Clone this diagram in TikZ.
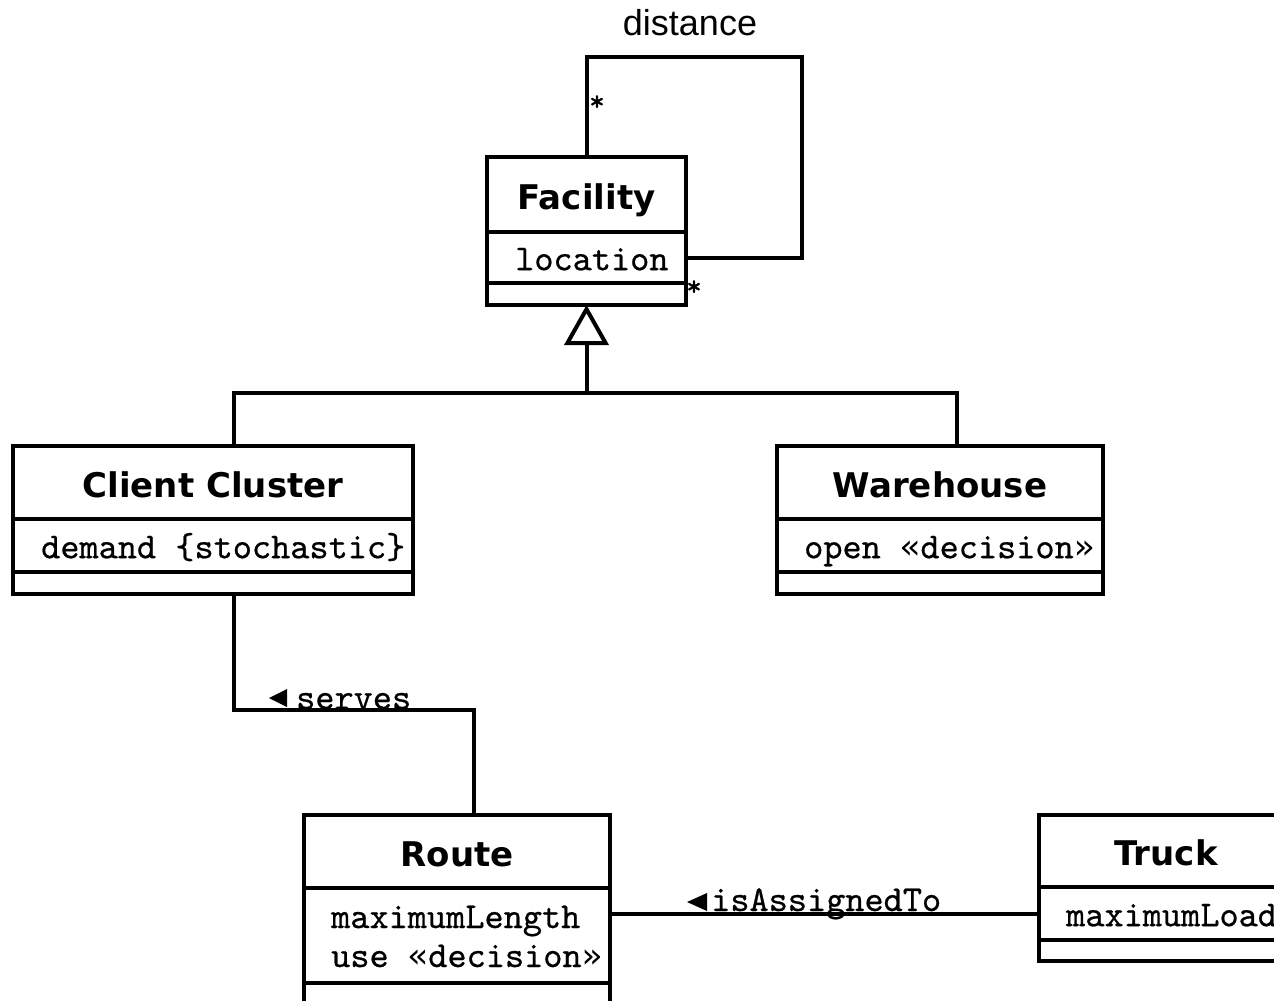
\documentclass[tikz,border=0pt]{standalone}
\usepackage{fontspec}
\newfontfamily\titlefont{DejaVu Sans}
\newfontfamily\labelfont{Liberation Sans}
\newfontfamily\gfont{DejaVu Sans Mono}
\newfontfamily\attrfont{lmmono10-regular.otf}[FakeBold=0.6]
\newcommand\lguil{{\gfont\fontsize{34}{40}\selectfont«}}
\newcommand\rguil{{\gfont\fontsize{34}{40}\selectfont»}}
\usetikzlibrary{arrows.meta}
\begin{document}
\begin{tikzpicture}[x=1pt,y=-1pt,
  box/.style={draw, line width=4pt, inner sep=0pt, outer sep=0pt, anchor=north west},
  titlebox/.style={box, font=\titlefont\bfseries\fontsize{34}{40}\selectfont, align=center, text height=30pt, text depth=1pt},
  attrtext/.style={inner sep=0pt, anchor=base west, font=\attrfont\fontsize{36.5}{39}\selectfont},
  lbl/.style={inner sep=0pt, font=\attrfont\fontsize{36.5}{39}\selectfont},
  conn/.style={line width=4pt},
  gen/.style={conn, -{Triangle[open, length=40pt, width=44pt, line width=4pt]}},
  dirtri/.style={fill=black}
]
\fill[white] (0,0) rectangle (1274,1001);
\useasboundingbox (0,0) rectangle (1274,1001);
\begin{scope}
\clip (0,0) rectangle (1274,1001);

% Facility
\node[titlebox, minimum width=199pt, minimum height=75pt] (fact) at (487,157) {Facility};
\node[box, minimum width=199pt, minimum height=51pt] (faca) at (fact.south west) {};
\node[box, minimum width=199pt, minimum height=22pt] (faco) at (faca.south west) {};
\node[attrtext] (facl) at ([xshift=28pt,yshift=-12.7pt]faca.west) {location};

% Client Cluster
\node[titlebox, minimum width=400pt, minimum height=73pt] (cct) at (13,446) {Client Cluster};
\node[box, minimum width=400pt, minimum height=53pt] (cca) at (cct.south west) {};
\node[box, minimum width=400pt, minimum height=22pt] (cco) at (cca.south west) {};
\node[attrtext] (ccl) at ([xshift=28pt,yshift=-12.7pt]cca.west) {demand \{stochastic\}};

% Warehouse
\node[titlebox, minimum width=326pt, minimum height=73pt] (wht) at (777,446) {Warehouse};
\node[box, minimum width=326pt, minimum height=53pt] (wha) at (wht.south west) {};
\node[box, minimum width=326pt, minimum height=22pt] (who) at (wha.south west) {};
\node[attrtext] (whl) at ([xshift=27pt,yshift=-12.7pt]wha.west) {open \lguil decision\rguil};

% Route
\node[titlebox, minimum width=306pt, minimum height=73pt] (rtt) at (304,815) {Route};
\node[box, minimum width=306pt, minimum height=95pt] (rta) at (rtt.south west) {};
\node[box, minimum width=306pt, minimum height=22pt] (rto) at (rta.south west) {};
\node[attrtext] (rtl1) at ([xshift=27pt,yshift=7.5pt]rta.west) {maximumLength};
\node[attrtext] (rtl2) at ([xshift=27pt,yshift=-31.5pt]rta.west) {use \lguil decision\rguil};

% Truck
\node[titlebox, minimum width=254pt, minimum height=72pt] (trt) at (1039,815) {Truck};
\node[box, minimum width=254pt, minimum height=53pt] (tra) at (trt.south west) {};
\node[box, minimum width=254pt, minimum height=21pt] (tro) at (tra.south west) {};
\node[attrtext] (trl) at ([xshift=27pt,yshift=-12.7pt]tra.west) {maximumLoad};

% generalization
\coordinate (g1) at (234,393);
\coordinate (g2) at (957,393);
\coordinate (gj) at (586.5,393);
\draw[conn] (cct.north -| g1) -- (g1) -- (g2) -- (wht.north -| g2);
\draw[gen] (gj) -- (faco.south);

% self association distance
\coordinate (d1) at (586.5,57);
\coordinate (d2) at (802,57);
\draw[conn] (fact.north) -- (d1) -- (d2) |- (faca.east);
\node[inner sep=0pt, anchor=base, font=\labelfont\fontsize{36}{40}\selectfont] (dist) at (690,35) {distance};
\node[lbl, font=\attrfont\fontsize{30}{36}\selectfont] (st1) at (597,103) {*};
\node[lbl, font=\attrfont\fontsize{30}{36}\selectfont] (st2) at (694,288) {*};

% serves
\coordinate (s1) at (234,710);
\coordinate (s2) at (474,710);
\draw[conn] (cco.south -| s1) -- (s1) -- (s2) -- (rtt.north -| s2);
\fill[dirtri] (287,689) -- (287,707) -- (269,698) -- cycle;
\node[lbl, anchor=base west] (serves) at (296,709) {serves};

% isAssignedTo
\draw[conn] (tra.west) -- (tra.west -| rta.east);
\fill[dirtri] (707,893) -- (707,911) -- (687,902) -- cycle;
\node[lbl, anchor=base west] (assigned) at (711,911) {isAssignedTo};
\end{scope}
\end{tikzpicture}
\end{document}
